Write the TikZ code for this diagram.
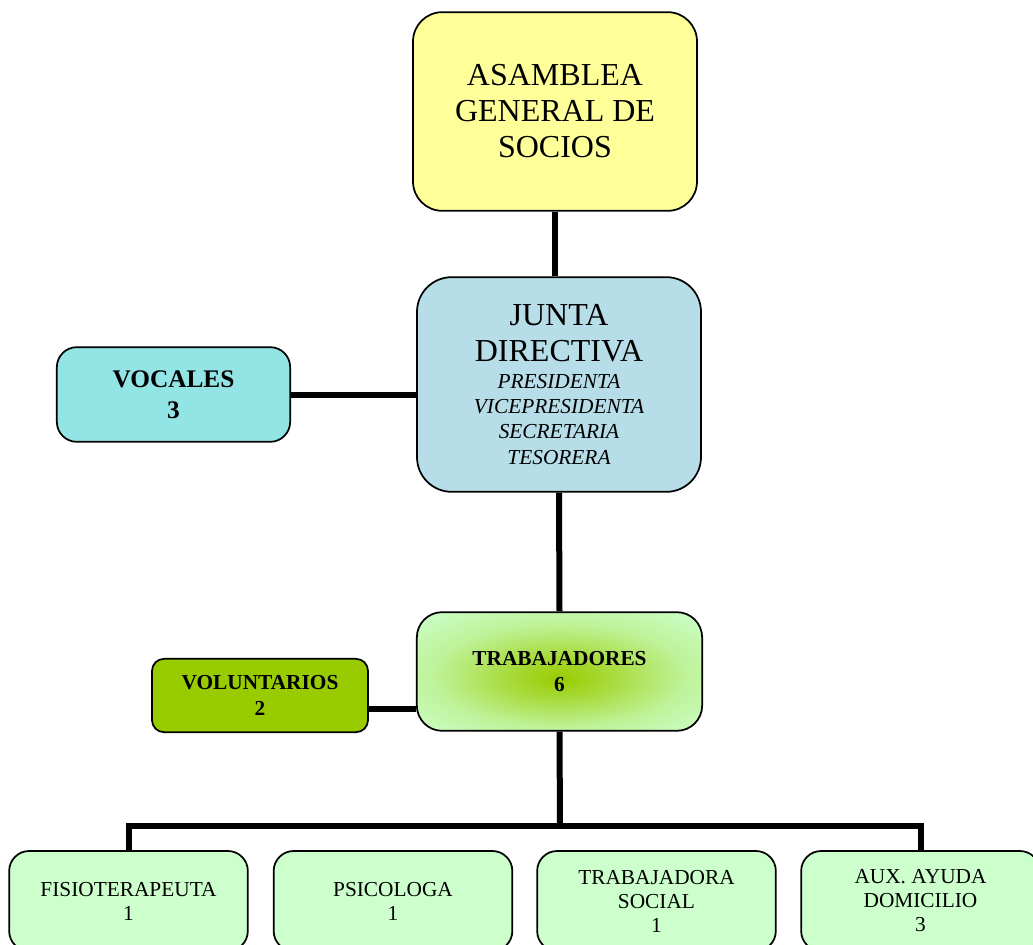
\documentclass[tikz,border=0pt]{standalone}
\usepackage{fontspec}
\setmainfont{Liberation Serif}
\definecolor{asamyellow}{RGB}{255, 255, 153}
\definecolor{juntablue}{RGB}{183, 222, 232}
\definecolor{vocalcyan}{RGB}{147, 228, 228}
\definecolor{palegreen}{RGB}{204, 255, 204}
\definecolor{olivegreen}{RGB}{153, 204, 0}
\usetikzlibrary{positioning, calc}
\pgfdeclareradialshading{trabglow}{\pgfpoint{0bp}{-3bp}}{color(0bp)=(olivegreen); color(8bp)=(olivegreen!75!palegreen); color(22bp)=(olivegreen!25!palegreen); color(36bp)=(palegreen); color(50bp)=(palegreen)}
\tikzset{
    orgbox/.style={rectangle, draw=black, line width=1.3pt, inner sep=0pt, align=center},
    bigbox/.style={orgbox, minimum width=213pt, font=\fontsize{24}{27}\selectfont},
    sidebox/.style={orgbox, font=\fontsize{16}{19}\selectfont\bfseries},
    staffbox/.style={orgbox, fill=palegreen, rounded corners=15pt, minimum width=179pt,
                     minimum height=75pt, font=\fontsize{16}{18}\selectfont},
    conn/.style={line width=4.5pt, black},
}
\newcommand{\cargo}[1]{{\fontsize{16}{18}\selectfont\itshape #1}}

\begin{document}
\begin{tikzpicture}[x=0.75pt, y=-0.75pt]
    \useasboundingbox (0,0) rectangle (1033,945);
    \clip (0,0) rectangle (1033,945);

    \node[bigbox, fill=asamyellow, rounded corners=22pt, minimum height=149pt] (asamblea) at (555, 111.5) {ASAMBLEA\\GENERAL DE\\SOCIOS};
    \node[bigbox, fill=juntablue, rounded corners=26pt, minimum height=161pt] (junta) at (559, 384.5)
        {JUNTA\\DIRECTIVA\\[-7pt]\cargo{PRESIDENTA}\\[-8pt]\cargo{VICEPRESIDENTA}\\[-8pt]\cargo{SECRETARIA}\\[-8pt]\cargo{TESORERA}};
    \node[sidebox, fill=vocalcyan, rounded corners=15pt, minimum width=175pt, minimum height=71pt, font=\fontsize{19}{23}\selectfont\bfseries] (vocales) at (173.5, 394.5) {VOCALES\\3};
    \node[sidebox, shading=trabglow, rounded corners=19pt, minimum width=214pt, minimum height=89pt] (trab) at (559.5, 671.5) {TRABAJADORES\\6};
    \node[sidebox, fill=olivegreen, rounded corners=9pt, minimum width=162pt, minimum height=55pt] (volunt) at (260, 695.5) {VOLUNTARIOS\\2};

    \node[staffbox] (fisio) at (128.5, 901) {FISIOTERAPEUTA\\1};
    \node[staffbox] (psico) at (393, 901) {PSICOLOGA\\1};
    \node[staffbox] (social) at (656.5, 901) {TRABAJADORA\\SOCIAL\\1};
    \node[staffbox] (auxayuda) at (920.5, 901) {AUX. AYUDA\\DOMICILIO\\3};
    \coordinate (bar) at (560, 826);

    \draw[conn] (asamblea.south) -- (asamblea.south |- junta.north);
    \draw[conn] (vocales.east) -- (vocales.east -| junta.west);
    \draw[conn] (junta.south) -- (trab.north);
    \draw[conn] ([yshift=-10pt]volunt.east) -- ([yshift=-10pt]volunt.east -| trab.west);
    \draw[conn] (trab.south) -- (bar);
    \draw[conn] (fisio.north) |- (bar) -| (auxayuda.north);
\end{tikzpicture}
\end{document}
